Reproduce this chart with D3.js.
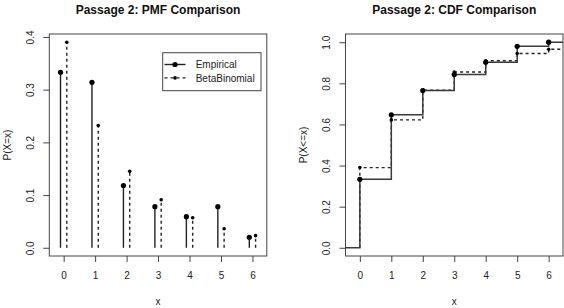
<!DOCTYPE html>
<html>
<head>
<meta charset="utf-8">
<script src="https://cdn.jsdelivr.net/npm/d3@7"></script>
<style>
  body { margin: 0; background: #fff; }
  svg { display: block; font-family: "Liberation Sans", Arial, Helvetica, sans-serif; }
</style>
</head>
<body>
<svg width="564" height="308"></svg>
<script>
// data
var xs = [0, 1, 2, 3, 4, 5, 6];
var empPmf = [0.333, 0.314, 0.118, 0.078, 0.059, 0.078, 0.020];
var betaPmf = [0.390, 0.232, 0.145, 0.091, 0.057, 0.036, 0.023];
var empCdf = [0.333, 0.647, 0.765, 0.843, 0.902, 0.980, 1.000];
var betaCdf = [0.390, 0.622, 0.767, 0.855, 0.910, 0.945, 0.966];
var pmfTicks = [0, 0.1, 0.2, 0.3, 0.4];
var cdfTicks = [0, 0.2, 0.4, 0.6, 0.8, 1.0];
var seriesNames = ["Empirical", "BetaBinomial"];

var svg = d3.select("svg");
var ink = "#222";
var dash = "3,3";

function panel(opts) {
    var x = d3.scaleLinear().domain([-0.456, 6.456]).range([opts.left, opts.left + 217.5]);
    var y = d3.scaleLinear().domain(opts.ydom).range([256, 34]);
    var g = svg.append("g");

    // x axis
    var xa = g.append("g")
        .attr("transform", "translate(0,256)")
        .call(d3.axisBottom(x).tickValues(xs).tickSize(6).tickFormat(d3.format("d")));
    xa.select(".domain").remove();
    xa.selectAll("line").attr("stroke", "#444");
    xa.selectAll("text")
        .attr("y", 0).attr("dy", 0)
        .attr("transform", "translate(0,23)")
        .attr("font-size", 10).attr("fill", ink);

    // y axis, labels rotated like R
    var ya = g.append("g")
        .attr("transform", "translate(" + opts.left + ",0)")
        .call(d3.axisLeft(y).tickValues(opts.ticks).tickSize(6).tickFormat(d3.format(".1f")));
    ya.select(".domain").remove();
    ya.selectAll("line").attr("stroke", "#444");
    ya.selectAll("text")
        .attr("x", 0).attr("dy", "0.35em")
        .attr("text-anchor", "middle")
        .attr("transform", "translate(-18.6,0) rotate(-90)")
        .attr("font-size", 10).attr("fill", ink);

    // box
    g.append("rect")
        .attr("x", x.range()[0]).attr("y", 34)
        .attr("width", x.range()[1] - x.range()[0]).attr("height", 222)
        .attr("fill", "none").attr("stroke", "#444");

    // titles
    var cx = (x.range()[0] + x.range()[1]) / 2;
    g.append("text")
        .attr("x", cx).attr("y", 14.3)
        .attr("text-anchor", "middle")
        .attr("font-size", 12).attr("font-weight", "bold").attr("fill", "#111")
        .text(opts.title);
    g.append("text")
        .attr("x", cx).attr("y", 304.5)
        .attr("text-anchor", "middle")
        .attr("font-size", 10).attr("fill", ink)
        .text("x");
    g.append("text")
        .attr("transform", "translate(" + (opts.left - 42) + "," + 145 + ") rotate(-90)")
        .attr("dy", "0.35em")
        .attr("text-anchor", "middle")
        .attr("font-size", 10).attr("fill", ink)
        .text(opts.ylab);

    return { g: g, x: x, y: y };
}

// ---- PMF panel ----
var p1 = panel({ left: 49.3, ydom: [-0.0156, 0.4056], ticks: pmfTicks,
    title: "Passage 2: PMF Comparison", ylab: "P(X=x)" });

p1.g.selectAll(".emp-h").data(xs).enter().append("line")
    .attr("x1", function(d) { return p1.x(d - 0.1); })
    .attr("x2", function(d) { return p1.x(d - 0.1); })
    .attr("y1", p1.y(0))
    .attr("y2", function(d, i) { return p1.y(empPmf[i]); })
    .attr("stroke", ink).attr("stroke-width", 1.4);
p1.g.selectAll(".beta-h").data(xs).enter().append("line")
    .attr("x1", function(d) { return p1.x(d + 0.1); })
    .attr("x2", function(d) { return p1.x(d + 0.1); })
    .attr("y1", p1.y(0))
    .attr("y2", function(d, i) { return p1.y(betaPmf[i]); })
    .attr("stroke", ink).attr("stroke-width", 1.4).attr("stroke-dasharray", dash);
p1.g.selectAll(".emp-pt").data(xs).enter().append("circle")
    .attr("cx", function(d) { return p1.x(d - 0.1); })
    .attr("cy", function(d, i) { return p1.y(empPmf[i]); })
    .attr("r", 2.6).attr("fill", "#000");
p1.g.selectAll(".beta-pt").data(xs).enter().append("circle")
    .attr("cx", function(d) { return p1.x(d + 0.1); })
    .attr("cy", function(d, i) { return p1.y(betaPmf[i]); })
    .attr("r", 1.8).attr("fill", "#000");

// legend
var legend = p1.g.append("g");
legend.append("rect")
    .attr("x", 162.7).attr("y", 52.7).attr("width", 98.3).attr("height", 38)
    .attr("fill", "#fff").attr("stroke", "#444");
var items = legend.selectAll(".item").data(seriesNames).enter().append("g")
    .attr("transform", function(d, i) { return "translate(0," + (64.5 + i * 13.4) + ")"; });
items.append("line")
    .attr("x1", 164.5).attr("x2", 185.5)
    .attr("stroke", ink).attr("stroke-width", 1.4)
    .attr("stroke-dasharray", function(d, i) { return i ? dash : null; });
items.append("circle")
    .attr("cx", 175).attr("r", function(d, i) { return i ? 1.8 : 2.6; })
    .attr("fill", "#000");
items.append("text")
    .attr("x", 195.7).attr("y", 3.7)
    .attr("font-size", 10).attr("fill", ink)
    .text(function(d) { return d; });

// ---- CDF panel ----
var p2 = panel({ left: 345.5, ydom: [-0.04, 1.04], ticks: cdfTicks,
    title: "Passage 2: CDF Comparison", ylab: "P(X<=x)" });

function stepPath(vals, x0, start) {
    var pts = [[x0, start]];
    xs.forEach(function(d, i) {
        pts.push([d, pts[pts.length - 1][1]]);
        pts.push([d, vals[i]]);
    });
    pts.push([6.456, vals[vals.length - 1]]);
    return d3.line()
        .x(function(p) { return p2.x(p[0]); })
        .y(function(p) { return p2.y(p[1]); })(pts);
}

p2.g.append("path")
    .attr("d", stepPath(betaCdf, 0, 0))
    .attr("fill", "none").attr("stroke", ink).attr("stroke-width", 1.4)
    .attr("stroke-dasharray", dash);
p2.g.append("path")
    .attr("d", stepPath(empCdf, -0.456, 0))
    .attr("fill", "none").attr("stroke", "#3a3a3a").attr("stroke-width", 1.5);
p2.g.selectAll(".beta-pt").data(xs).enter().append("circle")
    .attr("cx", function(d) { return p2.x(d); })
    .attr("cy", function(d, i) { return p2.y(betaCdf[i]); })
    .attr("r", 1.8).attr("fill", "#000");
p2.g.selectAll(".emp-pt").data(xs).enter().append("circle")
    .attr("cx", function(d) { return p2.x(d); })
    .attr("cy", function(d, i) { return p2.y(empCdf[i]); })
    .attr("r", 2.6).attr("fill", "#000");
</script>
</body>
</html>
